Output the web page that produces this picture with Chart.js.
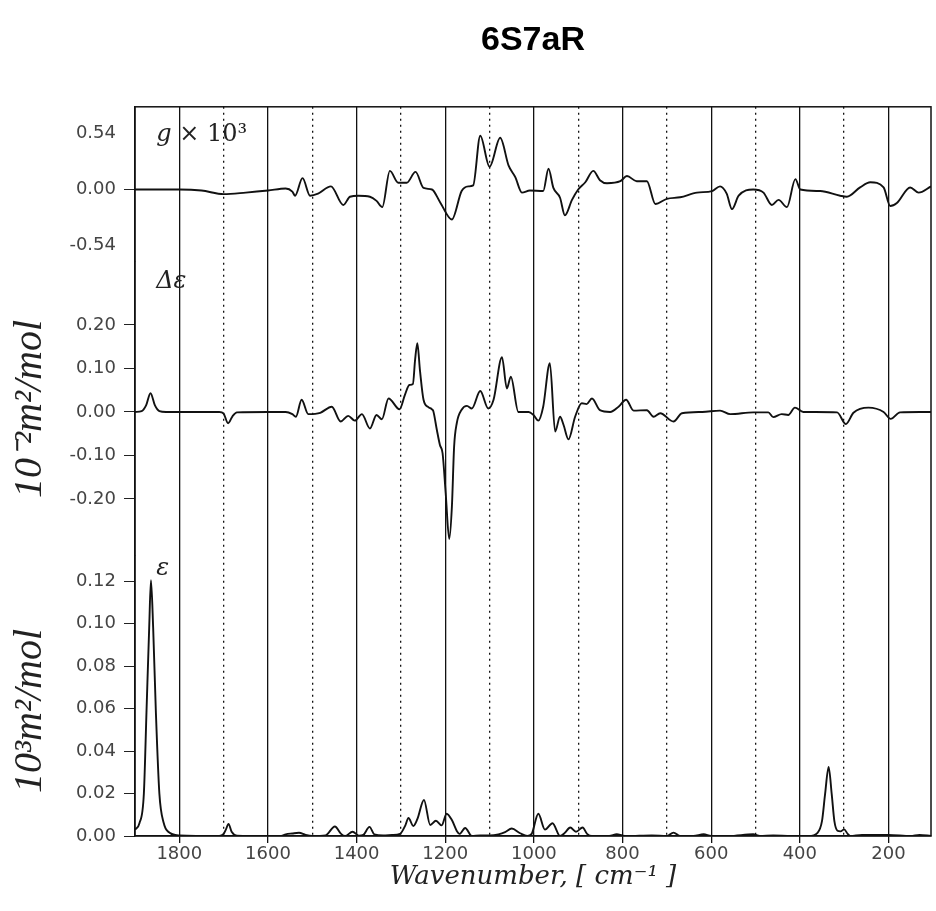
<!DOCTYPE html>
<html><head><meta charset="utf-8">
<script src="https://cdn.jsdelivr.net/npm/chart.js@4.4.0/dist/chart.umd.min.js"></script>
<style>html,body{margin:0;padding:0;background:#fff}</style>
</head><body>
<canvas id="c" width="936" height="911"></canvas>
<script>
// ---------- data ----------
const chartTitle = '6S7aR';
const xTickValues = [1800,1700,1600,1500,1400,1300,1200,1100,1000,900,800,700,600,500,400,300,200];
const gTicks = [0.54, 0, -0.54];
const deTicks = [0.2, 0.1, 0, -0.1, -0.2];
const epsTicks = [0.12, 0.10, 0.08, 0.06, 0.04, 0.02, 0];

// g x 10^3 (dissymmetry factor)
const gWn  = [1900,1850,1800,1750,1700,1650,1600,1560,1545,1539,1522,1505,1487,1458,1430,1415,1396,1370,1355,1342,1325,1306,1287,1267,1249,1230,1212,1185,1163,1148,1137,1121,1100,1076,1057,1042,1027,1009,979,967,956,941,930,914,900,884,866,851,835,805,790,768,745,726,700,670,632,598,580,565,553,538,505,482,463,448,429,410,399,354,309,294,264,241,211,196,181,151,132,104];
const gVal = [0,0,0,-0.01,-0.045,-0.03,-0.01,0.01,-0.02,-0.06,0.11,-0.06,-0.04,0.03,-0.15,-0.07,-0.06,-0.07,-0.11,-0.17,0.18,0.065,0.065,0.17,0.015,0,-0.12,-0.29,-0.015,0.03,0.04,0.52,0.22,0.50,0.23,0.12,-0.03,-0.01,-0.015,0.20,0.015,-0.08,-0.25,-0.10,0,0.07,0.18,0.09,0.06,0.08,0.13,0.08,0.08,-0.14,-0.09,-0.075,-0.03,-0.015,0.03,-0.04,-0.19,-0.06,0,-0.03,-0.15,-0.10,-0.17,0.10,0,-0.015,-0.06,-0.07,0.02,0.07,0.02,-0.16,-0.13,0.02,-0.03,0.03];

// delta epsilon (VCD)
const deWn  = [1900,1885,1875,1865,1855,1845,1830,1710,1700,1690,1680,1670,1600,1560,1545,1537,1524,1509,1482,1456,1436,1419,1404,1388,1370,1355,1343,1328,1303,1291,1281,1273,1268,1263,1257,1249,1238,1230,1227,1219,1212,1206,1199,1191,1185,1180,1174,1163,1151,1140,1121,1103,1091,1072,1061,1052,1035,1012,1001,990,979,964,952,941,933,922,907,892,881,869,851,828,809,792,775,745,730,715,685,666,620,580,557,505,471,460,441,426,411,392,316,296,279,245,211,195,174,129,104];
const deVal = [0,0.002,0.015,0.043,0.015,0.002,0,0,-0.004,-0.026,-0.01,-0.001,0,0,-0.005,-0.011,0.028,-0.005,-0.002,0.012,-0.022,-0.009,-0.02,-0.005,-0.038,-0.007,-0.017,0.031,0.006,0.039,0.062,0.064,0.12,0.158,0.095,0.028,0.011,0.006,0.002,-0.041,-0.076,-0.095,-0.187,-0.292,-0.218,-0.08,-0.026,0.005,0.014,0.008,0.048,0.008,0.028,0.126,0.054,0.081,0,0,-0.007,-0.02,0.012,0.112,-0.045,-0.011,-0.03,-0.063,-0.011,0.02,0.018,0.031,0.004,0,0.012,0.028,0.003,0.004,-0.011,-0.003,-0.022,-0.003,0,0.003,-0.005,-0.001,-0.001,-0.012,-0.005,-0.007,0.01,0,-0.001,-0.028,-0.002,0.01,0,-0.016,-0.001,0,0];

// epsilon (IR absorption)
const epsWn  = [1900,1890,1880,1874,1868,1864,1859,1853,1845,1835,1825,1800,1710,1700,1695,1689,1682,1670,1600,1570,1560,1545,1530,1515,1500,1470,1449,1435,1426,1409,1395,1385,1371,1360,1340,1320,1302,1290,1283,1272,1263,1248,1234,1221,1208,1197,1185,1174,1168,1155,1140,1121,1099,1080,1065,1050,1031,1015,1005,990,975,958,941,930,918,905,890,880,869,830,813,800,790,734,700,685,670,640,617,600,560,505,490,460,420,380,360,350,343,335,328,322,315,308,300,292,286,260,240,200,150,130,104];
const epsVal = [0.003,0.006,0.02,0.059,0.098,0.1205,0.098,0.059,0.02,0.006,0.002,0.0003,0,0.001,0.003,0.0057,0.002,0.0002,0,0,0.0008,0.0012,0.0015,0.0005,0,0.0003,0.0045,0.001,0,0.002,0.0002,0.0005,0.0043,0.0008,0.0003,0.0005,0.001,0.005,0.0085,0.0047,0.0079,0.017,0.0052,0.0072,0.005,0.0105,0.0075,0.0024,0.001,0.0038,0,0.0003,0.0003,0.0008,0.0018,0.0035,0.0013,0,0.001,0.0105,0.003,0.006,0,0.0015,0.004,0.002,0.004,0.001,0,0,0.0008,0.0002,0,0.0003,0,0.0016,0,0,0.0008,0,0,0.0008,0,0.0003,0,0,0.0015,0.007,0.0197,0.0326,0.0197,0.007,0.0025,0.0022,0.0031,0.001,0,0.0005,0.0005,0.0005,0,0.0005,0];

// in-plot labels
const notes = [
  {parts:[['g','italic'],[' \u00d7 10\u00b3','normal']], x:1852, axis:'yG', y:0.53},
  {parts:[['\u0394\u03b5','italic']], x:1852, axis:'yD', y:0.30},
  {parts:[['\u03b5','italic']], x:1852, axis:'yE', y:0.126}
];

// ---------- chart ----------
const toPts = (xs, ys) => xs.map((x, i) => ({x, y: ys[i]}));
const lineStyle = {borderColor:'#111', borderWidth:1.9, pointRadius:0, fill:false, cubicInterpolationMode:'monotone'};
const tickFont = {family:'DejaVu Sans', size:18};
const mathFont = {family:'DejaVu Serif', size:26, style:'italic'};
const yTitleFont = {family:'Liberation Serif', size:40, style:'italic'};
const blank = 'rgba(0,0,0,0)';

function yAxis(ticksArr, extra) {
  return Object.assign({
    type:'linear', position:'left', stack:'left',
    afterBuildTicks: s => { s.ticks = ticksArr.map(v => ({value:v})); },
    afterFit: s => { s.width = 135; },
    ticks:{autoSkip:false, font:tickFont, color:'#444', padding:8, callback: v => Number(v).toFixed(2)},
    grid:{drawOnChartArea:false, drawTicks:true, tickLength:11, tickColor:'#222', tickWidth:1},
    border:{display:true, color:'#111', width:1.3}
  }, extra);
}

const framePlugin = {
  id:'frame',
  afterDatasetsDraw(chart) {
    const a = chart.chartArea, c = chart.ctx;
    c.save(); c.strokeStyle = '#111'; c.lineWidth = 1.5;
    c.strokeRect(a.left, a.top, a.right - a.left, a.bottom - a.top);
    c.restore();
  }
};
const notePlugin = {
  id:'notes',
  afterDatasetsDraw(chart) {
    const c = chart.ctx, xs = chart.scales.x;
    c.save(); c.fillStyle = '#222'; c.textBaseline = 'middle'; c.textAlign = 'left';
    for (const n of notes) {
      let px = xs.getPixelForValue(n.x);
      const py = chart.scales[n.axis].getPixelForValue(n.y);
      for (const [t, st] of n.parts) {
        c.font = (st === 'italic' ? 'italic ' : '') + '24px "DejaVu Serif"';
        c.fillText(t, px, py);
        px += c.measureText(t).width;
      }
    }
    c.restore();
  }
};

new Chart(document.getElementById('c'), {
  type:'line',
  data:{datasets:[
    Object.assign({label:'g', data:toPts(gWn, gVal), yAxisID:'yG'}, lineStyle),
    Object.assign({label:'de', data:toPts(deWn, deVal), yAxisID:'yD'}, lineStyle),
    Object.assign({label:'eps', data:toPts(epsWn, epsVal), yAxisID:'yE'}, lineStyle)
  ]},
  options:{
    responsive:false, animation:false, devicePixelRatio:1,
    layout:{padding:{left:0, right:5, top:0, bottom:0}},
    plugins:{
      legend:{display:false}, tooltip:{enabled:false},
      title:{display:true, fullSize:false, text:chartTitle, color:'#000', font:{family:'Liberation Sans', size:34, weight:'bold'}, padding:{top:20, bottom:46}}
    },
    scales:{
      x:{
        type:'linear', reverse:true, min:104, max:1900,
        afterBuildTicks: s => { s.ticks = xTickValues.map(v => ({value:v})); },
        afterFit: s => { s.height = 75; },
        ticks:{autoSkip:false, maxRotation:0, font:tickFont, color:'#444', padding:1,
               callback: v => (Math.round(v) % 200 === 0 ? String(v) : '')},
        grid:{color:'#111', lineWidth:1.3, tickLength:7,
              tickColor: ctx => (ctx.tick && Math.round(ctx.tick.value) % 200 === 0 ? '#111' : blank)},
        border:{display:true, color:'#111', width:1.3,
                dash: ctx => (ctx.type === 'tick' && ctx.tick && Math.round(ctx.tick.value) % 200 !== 0 ? [2,4] : [])},
        title:{display:true, text:'Wavenumber, [ cm\u207b\u00b9 ]', color:'#222', font:mathFont, padding:{top:0, bottom:18}}
      },
      yG: yAxis(gTicks, {weight:3, stackWeight:155, min:-0.699, max:0.799,
        grid:{drawOnChartArea:false, drawTicks:true, tickLength:11, tickWidth:1,
              tickColor: ctx => (ctx.tick && Math.abs(ctx.tick.value) > 0.01 ? blank : '#222')}}),
      yD: yAxis(deTicks, {weight:2, stackWeight:294, min:-0.331, max:0.345,
        title:{display:true, text:'10\u207b\u00b2m\u00b2/mol', color:'#222', font:yTitleFont, padding:{top:6, bottom:0}}}),
      yE: yAxis(epsTicks, {weight:1, stackWeight:280, min:0, max:0.132,
        title:{display:true, text:'10\u00b3m\u00b2/mol   ', color:'#222', font:yTitleFont, padding:{top:6, bottom:0}}})
    }
  },
  plugins:[framePlugin, notePlugin]
});
</script>
</body></html>
